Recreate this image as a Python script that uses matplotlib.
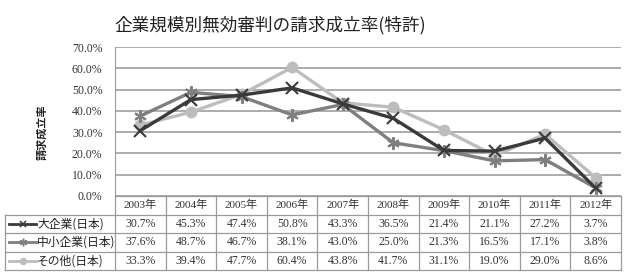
import matplotlib
matplotlib.use("Agg")
import matplotlib.pyplot as plt
from matplotlib.lines import Line2D

plt.rcParams['font.family'] = ['Liberation Serif', 'Noto Sans CJK JP', 'DejaVu Sans']

title = "企業規模別無効審判の請求成立率(特許)"
ylabel = "請求成立率"
years = ["2003年", "2004年", "2005年", "2006年", "2007年", "2008年", "2009年", "2010年", "2011年", "2012年"]
series_names = ["大企業(日本)", "中小企業(日本)", "その他(日本)"]
large = [30.7, 45.3, 47.4, 50.8, 43.3, 36.5, 21.4, 21.1, 27.2, 3.7]
small = [37.6, 48.7, 46.7, 38.1, 43.0, 25.0, 21.3, 16.5, 17.1, 3.8]
other = [33.3, 39.4, 47.7, 60.4, 43.8, 41.7, 31.1, 19.0, 29.0, 8.6]
yticks = [0, 10, 20, 30, 40, 50, 60, 70]

values = [large, small, other]
colors = ["#3a3a3a", "#7f7f7f", "#bdbdbd"]
markers = ["x", (6, 2, 0), "o"]
msizes = [8, 9, 7]

W, H = 624, 274
fig = plt.figure(figsize=(W / 100, H / 100), dpi=100)

def fx(px):
    return px / W

def fy(py):
    return 1 - py / H

left, right = 115, 621
top, bottom = 47, 196
ax = fig.add_axes([fx(left), fy(bottom), fx(right) - fx(left), fy(top) - fy(bottom)])
x = list(range(len(years)))
ax.set_xlim(-0.5, len(years) - 0.5)
ax.set_ylim(0, 70)
for yt in yticks:
    ax.axhline(yt, color="#a6a6a6", lw=1.3, zorder=0)
for i, (vals, c, m, ms) in enumerate(zip(values, colors, markers, msizes)):
    ax.plot(x, vals, color=c, lw=2.4, marker=m, markersize=ms, mew=1.5,
            mfc=c, mec=c, zorder=3 - i * 0.1 if i != 2 else 2.5)
ax.set_yticks(yticks)
ax.set_yticklabels([f"{v:.1f}%" for v in yticks], fontsize=8.5, color="#333333")
ax.set_xticks([])
for s in ["top", "right", "bottom"]:
    ax.spines[s].set_visible(False)
ax.spines["left"].set_color("#999999")
ax.tick_params(axis="y", length=0, pad=9)

fig.text(fx(42), fy(132), ylabel, ha="center", va="center", rotation=90,
         fontsize=8, fontweight="bold", family=['Noto Sans CJK JP'], color="#222222")

fig.text(fx(270), fy(25), title, ha="center", va="center", fontsize=12.7,
         family=['Noto Sans CJK JP'], color="#222222")

# table
tb_top, tb_bot = 196, 270
tax = fig.add_axes([fx(left), fy(tb_bot), fx(right) - fx(left), fy(tb_top) - fy(tb_bot)])
tax.set_xlim(-0.5, len(years) - 0.5)
tax.set_ylim(4, 0)
tax.axis("off")
colw = (right - left) / len(years)
lab_left = -0.5 - (left - 5) / colw
lc = "#9a9a9a"
for r in range(5):
    x0 = -0.5 if r == 0 else lab_left
    tax.plot([x0, len(years) - 0.5], [r, r], color=lc, lw=0.9, clip_on=False)
for cidx in range(len(years) + 1):
    tax.plot([cidx - 0.5] * 2, [0, 4], color=lc, lw=0.9, clip_on=False)
tax.plot([lab_left] * 2, [1, 4], color=lc, lw=0.9, clip_on=False)

for j, yr in enumerate(years):
    tax.text(j, 0.5, yr, ha="center", va="center", fontsize=8, color="#333333")
for i, (name, vals, c, m, ms) in enumerate(zip(series_names, values, colors, markers, msizes)):
    r = i + 1.5
    for j, v in enumerate(vals):
        tax.text(j, r, f"{v:.1f}%", ha="center", va="center", fontsize=8.5, color="#333333")
    sx0 = lab_left + 4 / colw
    sx1 = lab_left + 31 / colw
    tax.add_line(Line2D([sx0, sx1], [r, r], color=c, lw=2, clip_on=False))
    tax.add_line(Line2D([(sx0 + sx1) / 2], [r], color=c, marker=m, markersize=ms * 0.6,
                        mew=1.1, mfc=c, mec=c, clip_on=False))
    tax.text(sx1 + 1 / colw, r, name, ha="left", va="center", fontsize=8.5,
             color="#222222", family=['Noto Sans CJK JP'], clip_on=False)

fig.savefig("out.png", dpi=100, facecolor="white")
